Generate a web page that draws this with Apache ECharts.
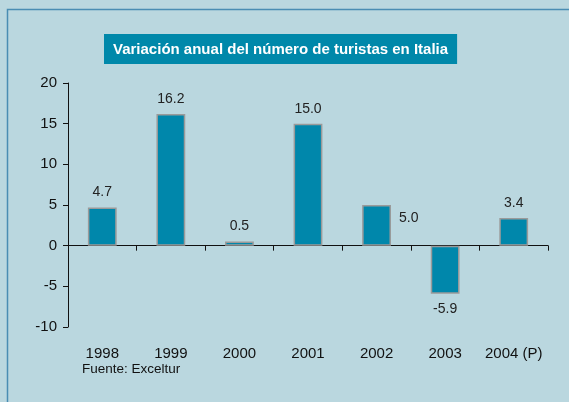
<!DOCTYPE html>
<html>
<head>
<meta charset="utf-8">
<script src="https://cdn.jsdelivr.net/npm/echarts@6/dist/echarts.min.js"></script>
<style>
  html, body { margin: 0; padding: 0; background: #bad7df; }
  #chart { width: 569px; height: 402px; }
</style>
</head>
<body>
<div id="chart"></div>
<script>
const years = ['1998', '1999', '2000', '2001', '2002', '2003', '2004 (P)']
const variation = [4.7, 16.2, 0.5, 15.0, 5.0, -5.9, 3.4]
const yTicks = { min: -10, max: 20, step: 5 }

const barColor = '#0087ab'
const font = 'Liberation Sans, Arial, sans-serif'

// where each value label sits, same as the original slide
const labelPos = (v, i) => {
  if (years[i] === '2002') return { position: 'right', offset: [0, -7] }
  return { position: v < 0 ? 'bottom' : 'top' }
}

const chart = echarts.init(document.getElementById('chart'))

chart.setOption({
  backgroundColor: '#bad7df',
  animation: false,
  textStyle: { fontFamily: font },
  title: {
    text: 'Variación anual del número de turistas en Italia',
    left: 104,
    top: 34,
    backgroundColor: '#0088aa',
    padding: [8, 9, 7, 9],
    textStyle: { color: '#fff', fontSize: 15, fontWeight: 'bold', fontFamily: font }
  },
  graphic: [
    {
      type: 'polyline',
      shape: { points: [[7.5, 410], [7.5, 9.5], [580, 9.5]] },
      style: { stroke: '#4a8db3', lineWidth: 1.5, fill: null },
      silent: true
    },
    {
      type: 'text',
      left: 82,
      top: 362,
      style: { text: 'Fuente: Exceltur', fontSize: 13.5, fill: '#111', fontFamily: font }
    }
  ],
  grid: { left: 68, right: 21, top: 83, bottom: 75 },
  xAxis: [
    {
      type: 'category',
      data: years,
      axisLine: { onZero: true, lineStyle: { color: '#111', width: 1 } },
      axisTick: { show: true, length: 5, inside: false, lineStyle: { color: '#111' } },
      axisLabel: { show: false },
      splitLine: { show: false }
    },
    {
      type: 'category',
      data: years,
      position: 'bottom',
      axisLine: { show: false },
      axisTick: { show: false },
      axisLabel: { interval: 0, margin: 19, fontSize: 15, color: '#111', fontFamily: font },
      splitLine: { show: false }
    }
  ],
  yAxis: {
    type: 'value',
    min: yTicks.min,
    max: yTicks.max,
    interval: yTicks.step,
    axisLine: { show: true, lineStyle: { color: '#111' } },
    axisTick: { show: true, length: 5, lineStyle: { color: '#111' } },
    axisLabel: { fontSize: 15, color: '#111', margin: 11, fontFamily: font },
    splitLine: { show: false }
  },
  series: [
    {
      type: 'bar',
      xAxisIndex: 0,
      barWidth: '42%',
      data: variation.map((v, i) => ({
        value: v,
        label: labelPos(v, i)
      })),
      itemStyle: { color: barColor, borderColor: '#9a9a9a', borderWidth: 1.5 },
      label: {
        show: true,
        fontSize: 14,
        color: '#222',
        distance: 8,
        fontFamily: font,
        formatter: (p) => p.value.toFixed(1)
      }
    }
  ]
})
</script>
</body>
</html>
